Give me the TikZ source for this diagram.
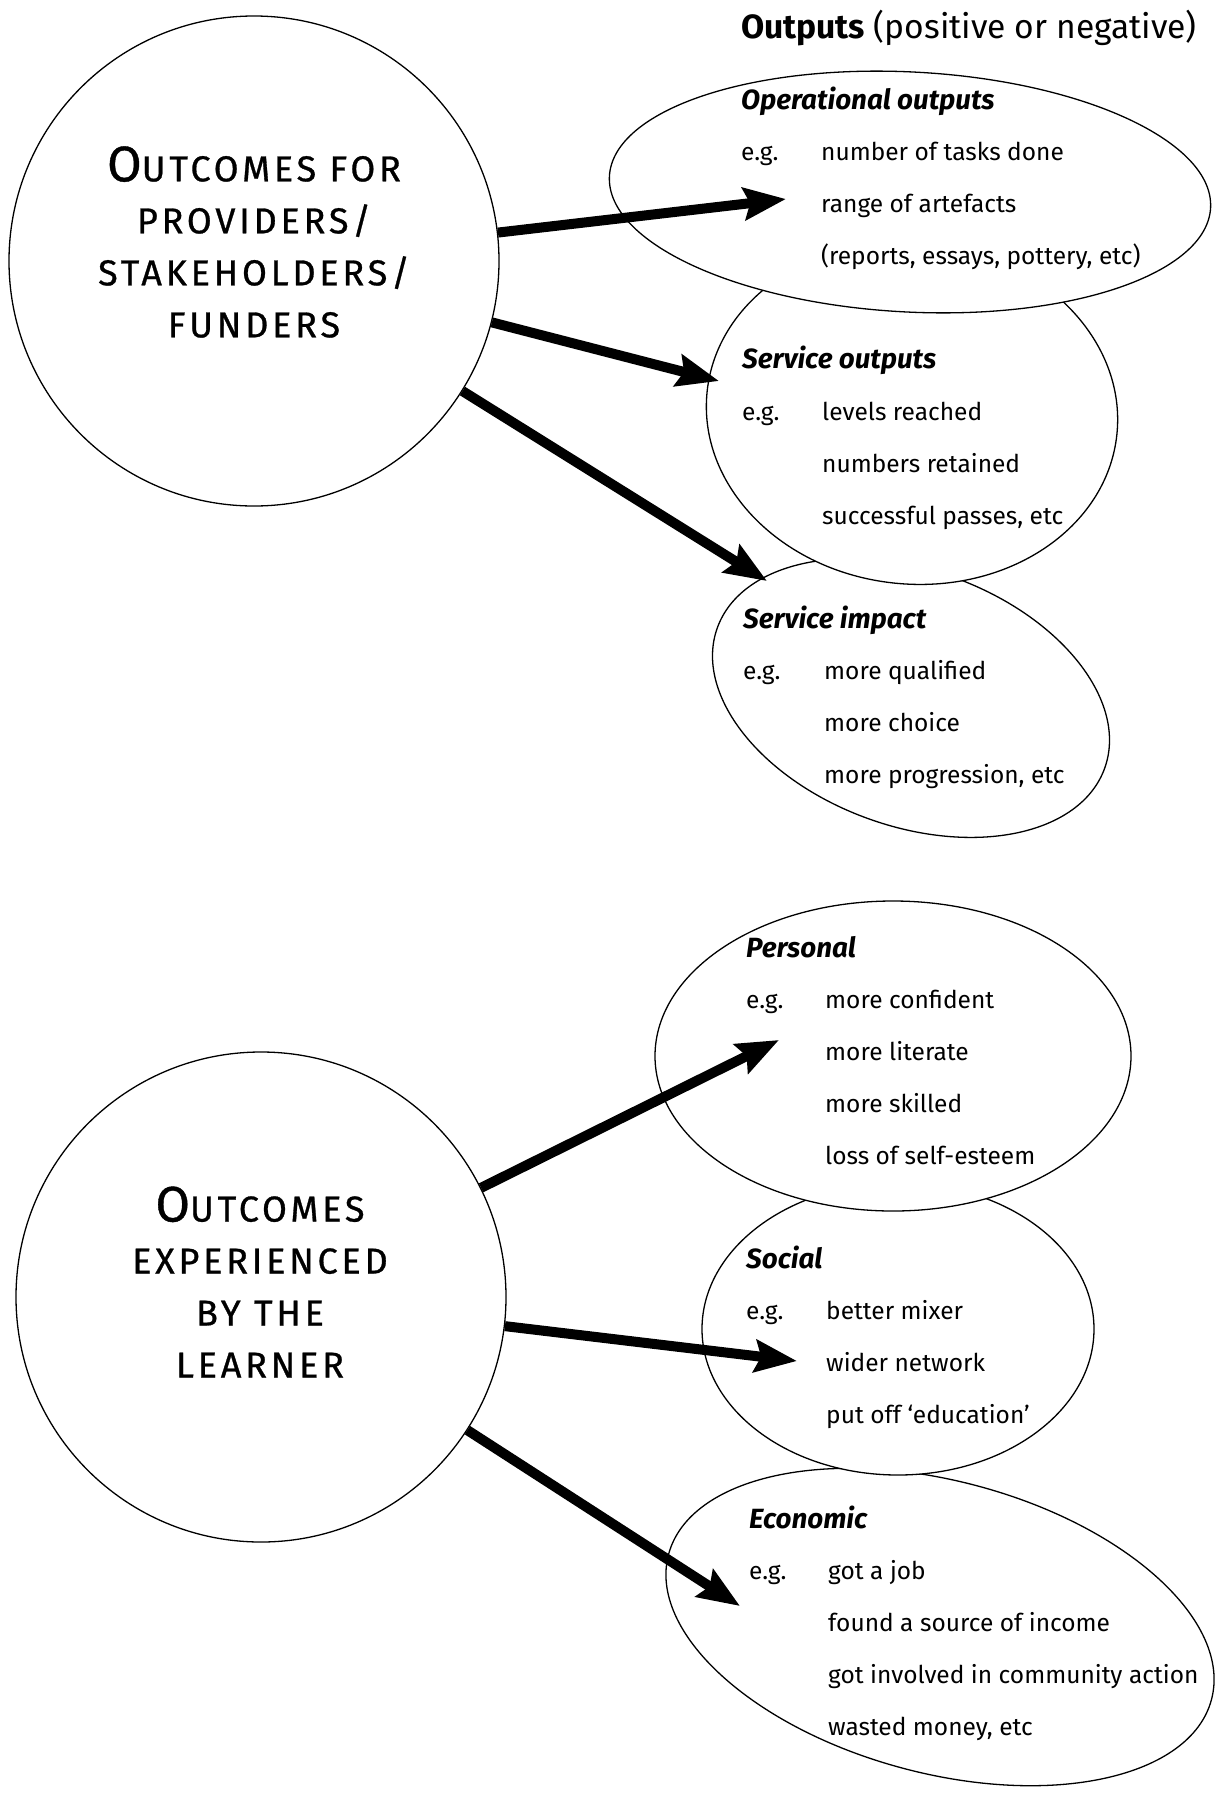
\documentclass[tikz,border=0pt]{standalone}
\usepackage{fontspec}
\setmainfont{Fira Sans}
\newfontfamily\circfont{Fira Sans}[LetterSpace=10.5, FakeBold=0.8]
\usetikzlibrary{shapes.geometric,arrows.meta,positioning}

\tikzset{
  bubble/.style={ellipse, draw, fill=white, line width=1.3pt, inner sep=0pt},
  bigcirc/.style={circle, draw, fill=white, line width=1.3pt, inner sep=0pt, minimum size=490pt},
  circtext/.style={align=center, inner sep=0pt, font=\circfont\fontsize{36}{52}\selectfont},
  head/.style={anchor=base west, inner sep=0pt, font=\fontsize{27.8}{30}\selectfont\bfseries\itshape},
  entry/.style={anchor=base west, inner sep=0pt, font=\fontsize{24.5}{28}\selectfont},
  fat/.style={line width=10pt, -{Stealth[length=42pt,width=32pt,inset=6pt]}},
}
\newcommand{\capO}{{\fontsize{50}{52}\selectfont O}}

\begin{document}
\begin{tikzpicture}[x=1pt,y=-1pt]
  \useasboundingbox (0,0) rectangle (1217,1813);

  % ellipses, lower ones first
  \node[bubble, rotate=-20, minimum width=412pt, minimum height=256pt] (simp) at (911,698) {};
  \node[bubble, rotate=-6, minimum width=412pt, minimum height=342pt] (sout) at (912,413) {};
  \node[bubble, rotate=-3, minimum width=602pt, minimum height=240pt] (oper) at (910,192) {};
  \node[bubble, rotate=-15, minimum width=562pt, minimum height=292pt] (econ) at (940,1627) {};
  \node[bubble, minimum width=392pt, minimum height=292pt] (soc) at (898,1329) {};
  \node[bubble, minimum width=476pt, minimum height=310pt] (pers) at (893,1056) {};

  % the two circles
  \node[bigcirc] (prov) at (254,261) {};
  \node[circtext] (provtext) at (254,242) {\capO UTCOMES FOR\\PROVIDERS/\\STAKEHOLDERS/\\FUNDERS};
  \node[bigcirc] (lrn) at (261,1297) {};
  \node[circtext] (lrntext) at (260,1282) {\capO UTCOMES\\EXPERIENCED\\BY THE\\LEARNER};

  % heading
  \node[anchor=base west, inner sep=0pt, font=\fontsize{33.6}{36}\selectfont] (outputs) at (741,38)
    {\textbf{Outputs} (positive or negative)};

  % operational outputs
  \node[head] (operh) at (741,109) {Operational outputs};
  \node[entry] (opereg) at (741,160) {e.g.};
  \node[entry] (oper1) at (821,160) {number of tasks done};
  \node[entry] (oper2) at (821,212) {range of artefacts};
  \node[entry] (oper3) at (821,264) {(reports, essays, pottery, etc)};

  % service outputs
  \node[head] (south) at (742,368) {Service outputs};
  \node[entry] (souteg) at (742,420) {e.g.};
  \node[entry] (sout1) at (822,420) {levels reached};
  \node[entry] (sout2) at (822,472) {numbers retained};
  \node[entry] (sout3) at (822,524) {successful passes, etc};

  % service impact
  \node[head] (simph) at (743,628) {Service impact};
  \node[entry] (simpeg) at (743,679) {e.g.};
  \node[entry] (simp1) at (824,679) {more qualified};
  \node[entry] (simp2) at (824,731) {more choice};
  \node[entry] (simp3) at (824,783) {more progression, etc};

  % personal
  \node[head] (persh) at (746,957) {Personal};
  \node[entry] (perseg) at (746,1008) {e.g.};
  \node[entry] (pers1) at (825,1008) {more confident};
  \node[entry] (pers2) at (825,1060) {more literate};
  \node[entry] (pers3) at (825,1112) {more skilled};
  \node[entry] (pers4) at (825,1164) {loss of self-esteem};

  % social
  \node[head] (soch) at (746,1268) {Social};
  \node[entry] (soceg) at (746,1319) {e.g.};
  \node[entry] (soc1) at (826,1319) {better mixer};
  \node[entry] (soc2) at (826,1371) {wider network};
  \node[entry] (soc3) at (826,1423) {put off ‘education’};

  % economic
  \node[head] (econh) at (749,1528) {Economic};
  \node[entry] (econeg) at (749,1579) {e.g.};
  \node[entry] (econ1) at (828,1579) {got a job};
  \node[entry] (econ2) at (828,1631) {found a source of income};
  \node[entry] (econ3) at (828,1683) {got involved in community action};
  \node[entry] (econ4) at (828,1735) {wasted money, etc};

  % arrow tips
  \coordinate (tipA) at (786,199);
  \coordinate (tipB) at (719,381);
  \coordinate (tipC) at (767,581);
  \coordinate (tipD) at (779,1040);
  \coordinate (tipE) at (797,1361);
  \coordinate (tipF) at (740,1606);

  \draw[fat] (prov) -- (tipA);
  \draw[fat] (prov) -- (tipB);
  \draw[fat] (prov) -- (tipC);
  \draw[fat] (lrn) -- (tipD);
  \draw[fat] (lrn) -- (tipE);
  \draw[fat] (lrn) -- (tipF);
\end{tikzpicture}
\end{document}
